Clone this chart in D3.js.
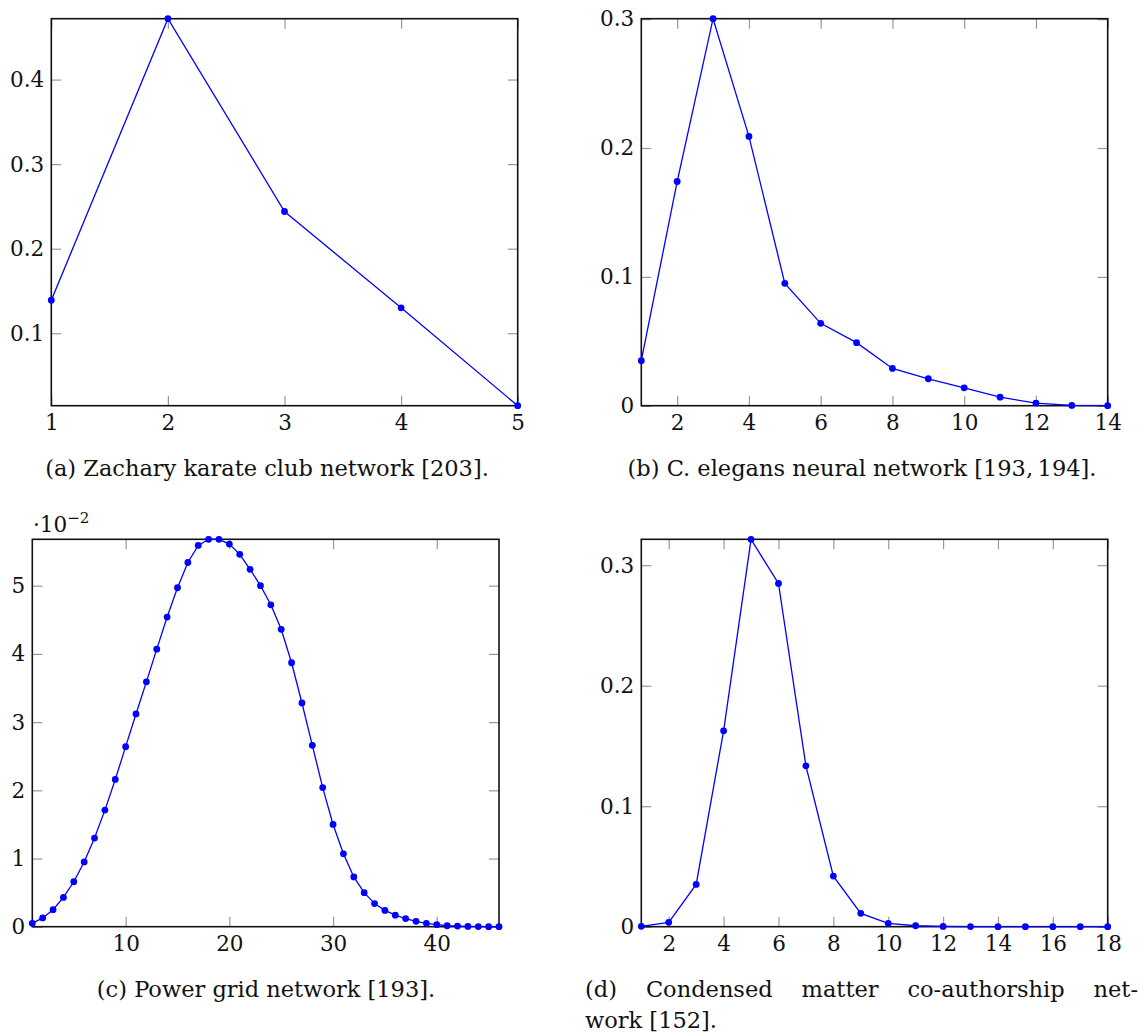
<!DOCTYPE html>
<html>
<head>
<meta charset="utf-8">
<script src="https://cdn.jsdelivr.net/npm/d3@7"></script>
<style>
  body { margin: 0; background: #fff; }
  svg text { font-family: "DejaVu Serif", serif; fill: #111; }
</style>
</head>
<body>
<svg id="chart" width="1139" height="1034"></svg>
<script>
// (a) Zachary karate club
const karateX = [1, 2, 3, 4, 5];
const karateY = [0.139, 0.472, 0.244, 0.130, 0.0143];
const karateXTicks = [1, 2, 3, 4, 5];
const karateYTicks = [0.1, 0.2, 0.3, 0.4];

// (b) C. elegans
const elegansX = d3.range(1, 15);
const elegansY = [0.035, 0.174, 0.3003, 0.209, 0.095, 0.064, 0.049, 0.029, 0.021, 0.014, 0.0067, 0.0021, 0.0003, 0.0001];
const elegansXTicks = [2, 4, 6, 8, 10, 12, 14];
const elegansYTicks = [0, 0.1, 0.2, 0.3];

// (c) power grid, values in units of 10^-2
const powerX = d3.range(1, 47);
const powerY = [0.05, 0.13, 0.25, 0.43, 0.66, 0.95, 1.30, 1.71, 2.16, 2.64,
                3.12, 3.59, 4.07, 4.54, 4.97, 5.34, 5.59, 5.68, 5.68, 5.61,
                5.46, 5.24, 5.00, 4.72, 4.36, 3.87, 3.28, 2.66, 2.04, 1.50,
                1.07, 0.73, 0.50, 0.34, 0.24, 0.17, 0.12, 0.08, 0.05, 0.03,
                0.015, 0.01, 0.005, 0.003, 0.002, 0.001];
const powerXTicks = [10, 20, 30, 40];
const powerYTicks = [0, 1, 2, 3, 4, 5];

// (d) condensed matter co-authorship
const condX = d3.range(1, 19);
const condY = [0.0003, 0.0036, 0.0351, 0.1626, 0.3215, 0.2848, 0.1335, 0.042, 0.0111, 0.0028,
               0.0008, 0.0002, 0.0001, 0.00005, 0.00003, 0.00002, 0.00001, 0.00001];
const condXTicks = [2, 4, 6, 8, 10, 12, 14, 16, 18];
const condYTicks = [0, 0.1, 0.2, 0.3];

const captions = [
    "(a) Zachary karate club network [203].",
    "(b) C. elegans neural network [193,\u2009194].",
    "(c) Power grid network [193].",
];
const captionD1 = ["(d)", "Condensed", "matter", "co-authorship", "net-"];
const captionD2 = "work [152].";

const svg = d3.select("#chart");
const TICK_FONT = 21.5;
const CAP_FONT = 22.5;
const FAMILY = "'DejaVu Serif', serif";

function drawPanel(box, xs, ys, xTicks, yTicks, yFmt) {
    const x = d3.scaleLinear().domain(d3.extent(xs)).range([box.left, box.right]);
    const y = d3.scaleLinear().domain(d3.extent(ys)).range([box.bottom, box.top]);
    const g = svg.append("g");

    const style = sel => {
        sel.attr("font-family", null).attr("font-size", null);
        sel.select(".domain").remove();
        sel.selectAll(".tick line").attr("stroke", "#999").attr("stroke-width", 1.2);
        sel.selectAll(".tick text").attr("fill", "#111")
            .style("font-size", TICK_FONT + "px")
            .style("font-family", FAMILY);
    };

    g.append("g").attr("transform", `translate(0,${box.bottom})`)
        .call(d3.axisBottom(x).tickValues(xTicks).tickSize(-10).tickPadding(9).tickFormat(d3.format("d")))
        .call(style);
    g.append("g").attr("transform", `translate(0,${box.top})`)
        .call(d3.axisTop(x).tickValues(xTicks).tickSize(-10).tickFormat(""))
        .call(style);
    g.append("g").attr("transform", `translate(${box.left},0)`)
        .call(d3.axisLeft(y).tickValues(yTicks).tickSize(-10).tickPadding(7).tickFormat(yFmt))
        .call(style);
    g.append("g").attr("transform", `translate(${box.right},0)`)
        .call(d3.axisRight(y).tickValues(yTicks).tickSize(-10).tickFormat(""))
        .call(style);

    g.append("rect")
        .attr("x", box.left).attr("y", box.top)
        .attr("width", box.right - box.left).attr("height", box.bottom - box.top)
        .attr("fill", "none").attr("stroke", "#111").attr("stroke-width", 1.6);

    const pts = xs.map((v, i) => [v, ys[i]]);
    g.append("path")
        .datum(pts)
        .attr("fill", "none")
        .attr("stroke", "#0000ff")
        .attr("stroke-width", 1.3)
        .attr("d", d3.line().x(d => x(d[0])).y(d => y(d[1])));

    g.append("g").selectAll("circle")
        .data(pts)
        .enter().append("circle")
        .attr("cx", d => x(d[0]))
        .attr("cy", d => y(d[1]))
        .attr("r", 3.4)
        .attr("fill", "#0000ff");
}

const fmtDec = v => v === 0 ? "0" : d3.format(".1f")(v);

drawPanel({ left: 51.3, right: 517.7, top: 18.7, bottom: 405.7 }, karateX, karateY, karateXTicks, karateYTicks, fmtDec);
drawPanel({ left: 641.3, right: 1107.7, top: 18.7, bottom: 405.7 }, elegansX, elegansY, elegansXTicks, elegansYTicks, fmtDec);
drawPanel({ left: 32.3, right: 499, top: 539.3, bottom: 926.7 }, powerX, powerY, powerXTicks, powerYTicks, d3.format("d"));
drawPanel({ left: 641.3, right: 1107.7, top: 539.3, bottom: 926.7 }, condX, condY, condXTicks, condYTicks, fmtDec);

function txt(x, y, size) {
    return svg.append("text").attr("x", x).attr("y", y)
        .style("font-size", size + "px").style("font-family", FAMILY);
}

// scale label for panel c
const sc = txt(33, 532, TICK_FONT);
sc.append("tspan").text("·10");
sc.append("tspan").style("font-size", "15px").attr("dy", -9).text("−2");

// captions
txt(267, 476, CAP_FONT).attr("text-anchor", "middle").text(captions[0]);
txt(862, 476, CAP_FONT).attr("text-anchor", "middle").text(captions[1]);
txt(266, 997, CAP_FONT).attr("text-anchor", "middle").text(captions[2]);

// justified first line of caption d
const dLeft = 585, dRight = 1138;
const words = captionD1.map(w => txt(0, 997, CAP_FONT).text(w));
const widths = words.map(t => t.node().getComputedTextLength());
const gap = (dRight - dLeft - d3.sum(widths)) / (words.length - 1);
let cx = dLeft;
words.forEach((t, i) => { t.attr("x", cx); cx += widths[i] + gap; });
txt(dLeft, 1028, CAP_FONT).text(captionD2);
</script>
</body>
</html>
